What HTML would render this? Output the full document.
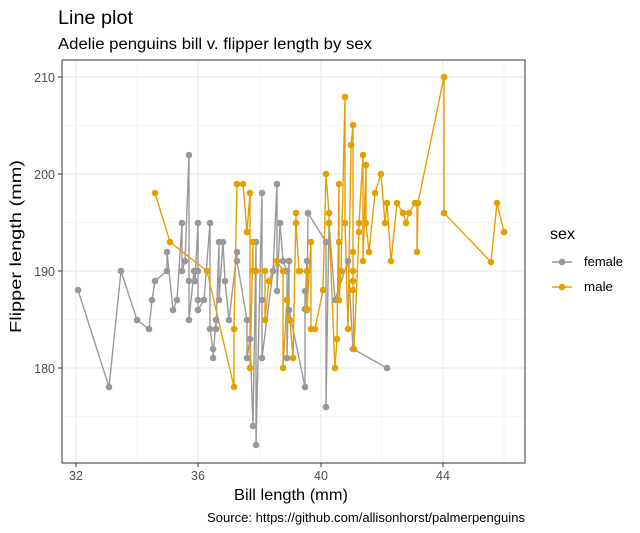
<!DOCTYPE html>
<html><head><meta charset="utf-8"><style>body{margin:0;background:#fff}svg{display:block}text{font-family:"Liberation Sans",Arial,sans-serif}</style></head><body>
<svg width="640" height="533" viewBox="0 0 640 533" xmlns="http://www.w3.org/2000/svg">
<rect width="640" height="533" fill="#fff"/>
<text x="58" y="24" font-size="19" textLength="75" lengthAdjust="spacingAndGlyphs" fill="#000">Line plot</text>
<text x="58" y="49" font-size="15.5" textLength="314" lengthAdjust="spacingAndGlyphs" fill="#000">Adelie penguins bill v. flipper length by sex</text>
<g stroke="#ebebeb" stroke-width="0.6">
<line x1="62" x2="525" y1="125.5" y2="125.5"/><line x1="62" x2="525" y1="222.5" y2="222.5"/><line x1="62" x2="525" y1="319.5" y2="319.5"/><line x1="62" x2="525" y1="416.5" y2="416.5"/>
<line y1="60" y2="463" x1="137" x2="137"/><line y1="60" y2="463" x1="260" x2="260"/><line y1="60" y2="463" x1="382" x2="382"/><line y1="60" y2="463" x1="504" x2="504"/>
</g>
<g stroke="#ebebeb" stroke-width="1.2">
<line x1="62" x2="525" y1="77" y2="77"/><line x1="62" x2="525" y1="174" y2="174"/><line x1="62" x2="525" y1="271" y2="271"/><line x1="62" x2="525" y1="368" y2="368"/>
<line y1="60" y2="463" x1="76" x2="76"/><line y1="60" y2="463" x1="198" x2="198"/><line y1="60" y2="463" x1="321" x2="321"/><line y1="60" y2="463" x1="443" x2="443"/>
</g>
<g fill="none" stroke="#999999" stroke-width="1.4">
<polyline points="78,290 109,387 121,271 137,320 149,329 152,300 155,281 167,271 167,252 173,310 177,300 182,223 182,271 185,261 189,155 189,281 189,320 194,271 195,281 198,223 198,300 198,271 198,310 204,300 210,223 210,329 213,349 213,358 216,320 216,329 219,242 219,300 223,242 225,281 229,320 237,252 237,261 247,320 247,358 250,339 253,426 256,242 256,445 262,193 262,300 262,358 273,271 277,184 277,291 280,223 283,261 287,271 287,358 289,261 289,310 305,387 305,291 305,309 307,261 307,310 308,213 326,242 326,407 329,223 335,300 348,261 353,349 387,368"/>
</g>
<g fill="none" stroke="#E69F00" stroke-width="1.4">
<polyline points="155,193 170,242 207,271 234,387 234,329 237,184 243,184 247,232 250,193 250,368 253,242 253,271 256,271 265,271 265,320 269,281 277,261 283,271 283,368 287,300 290,320 293,358 296,213 296,223 299,271 300,271 307,271 307,309 311,242 311,329 315,329 323,290 326,174 329,213 329,223 335,368 337,339 339,184 339,242 339,300 341,271 345,97 345,223 348,329 351,145 353,125 353,252 353,271 353,281 353,290 354,349 359,232 359,223 363,155 363,261 366,165 366,223 369,252 375,193 381,174 385,223 387,203 391,261 397,203 403,213 406,223 409,213 415,203 417,203 417,252 418,203 444,77 444,213 491,262 497,203 504,232"/>
</g>
<g id="pts"></g>
<rect x="62" y="60" width="463" height="403" fill="none" stroke="#333" stroke-width="1"/>
<g stroke="#333" stroke-width="1"><line x1="58" x2="62" y1="77" y2="77"/><line x1="58" x2="62" y1="174" y2="174"/><line x1="58" x2="62" y1="271" y2="271"/><line x1="58" x2="62" y1="368" y2="368"/>
<line x1="76" x2="76" y1="463" y2="467"/><line x1="198" x2="198" y1="463" y2="467"/><line x1="321" x2="321" y1="463" y2="467"/><line x1="443" x2="443" y1="463" y2="467"/></g>
<g font-size="12.5" fill="#4d4d4d" text-anchor="end"><text x="55" y="82">210</text><text x="55" y="179">200</text><text x="55" y="276">190</text><text x="55" y="373">180</text></g>
<g font-size="12.5" fill="#4d4d4d" text-anchor="middle"><text x="76" y="480">32</text><text x="198" y="480">36</text><text x="321" y="480">40</text><text x="443" y="480">44</text></g>
<text x="234" y="500" font-size="16" textLength="114" lengthAdjust="spacingAndGlyphs">Bill length (mm)</text>
<text transform="translate(21,333) rotate(-90)" font-size="16" textLength="173" lengthAdjust="spacingAndGlyphs">Flipper length (mm)</text>
<text x="207" y="522" font-size="12.5" textLength="318" lengthAdjust="spacingAndGlyphs">Source: https://github.com/allisonhorst/palmerpenguins</text>
<text x="550" y="239" font-size="16" textLength="25" lengthAdjust="spacingAndGlyphs">sex</text>
<line x1="552" x2="572" y1="262" y2="262" stroke="#999" stroke-width="1.4"/><circle cx="562" cy="262" r="3.3" fill="#999"/>
<line x1="552" x2="572" y1="287" y2="287" stroke="#E69F00" stroke-width="1.4"/><circle cx="562" cy="287" r="3.3" fill="#E69F00"/>
<text x="584" y="266" font-size="12.5" textLength="39" lengthAdjust="spacingAndGlyphs">female</text><text x="584" y="291" font-size="12.5" textLength="29" lengthAdjust="spacingAndGlyphs">male</text>
</svg>
<script>
(function(){var g=document.getElementById('pts'),ns='http://www.w3.org/2000/svg';
document.querySelectorAll('polyline').forEach(function(p){
p.getAttribute('points').trim().split(/\s+/).forEach(function(s){var a=s.split(',');var e=document.createElementNS(ns,'circle');
e.setAttribute('cx',a[0]);e.setAttribute('cy',a[1]);e.setAttribute('r','3.3');e.setAttribute('fill',p.parentNode.getAttribute('stroke'));g.appendChild(e);});});})();
</script>
</body></html>
